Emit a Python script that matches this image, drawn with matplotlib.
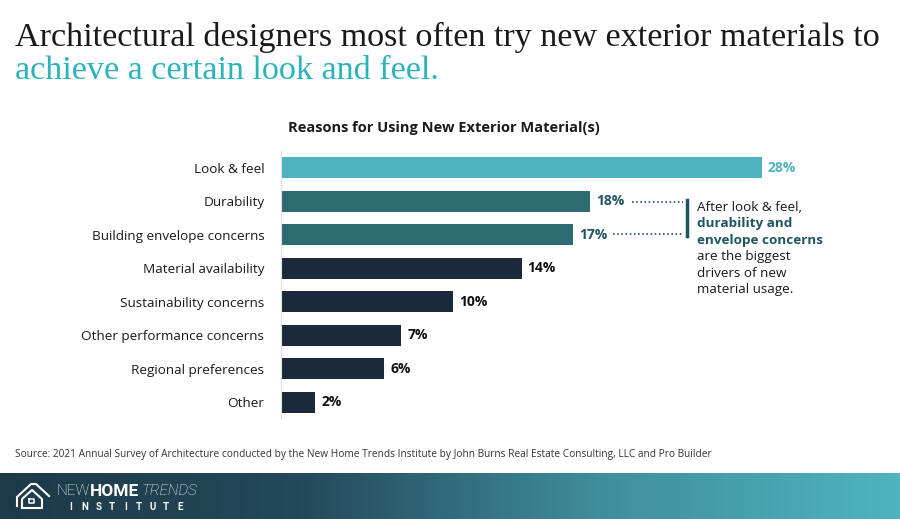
import numpy as np
import matplotlib
matplotlib.use('Agg')
import matplotlib.pyplot as plt
from matplotlib.colors import LinearSegmentedColormap

# data
reasons = ['Look & feel', 'Durability', 'Building envelope concerns',
           'Material availability', 'Sustainability concerns',
           'Other performance concerns', 'Regional preferences', 'Other']
shares = [28, 18, 17, 14, 10, 7, 6, 2]
bar_colors = ['#4fb3bf', '#2d6a72', '#2d6a72', '#1b2a3a', '#1b2a3a',
              '#1b2a3a', '#1b2a3a', '#1b2a3a']
label_colors = ['#4fb3bf', '#1f5561', '#1f5561', '#111111', '#111111',
                '#111111', '#111111', '#111111']

W, H = 900, 519
fig = plt.figure(figsize=(W / 100, H / 100), dpi=100)
fig.patch.set_facecolor('white')

def px(x, y):
    return x / W, 1 - y / H

# title
fig.text(*px(15, 37), 'Architectural designers most often try new exterior materials to',
         fontsize=24.6, family='Liberation Serif', color='#1a1a1a', va='center')
fig.text(*px(15, 71), 'achieve a certain look and feel.',
         fontsize=24.6, family='Liberation Serif', color='#2bb3bb', va='center')

fig.text(*px(444, 128), 'Reasons for Using New Exterior Material(s)', fontsize=10.5,
         family='Open Sans', weight='bold', color='#1a1a1a', ha='center', va='center')

# bar chart
x0, x1, y0, y1 = 281, 881, 151, 419
ax = fig.add_axes([x0 / W, 1 - y1 / H, (x1 - x0) / W, (y1 - y0) / H])
scale = 481 / 28.0
ax.set_xlim(0, (x1 - x0) / scale)
pos = np.arange(len(reasons))
ax.barh(pos, shares, height=0.64, color=bar_colors)
ax.set_ylim(len(reasons) - 0.5, -0.5)
ax.set_yticks(pos)
ax.set_yticklabels(reasons, fontsize=9.7, family='Open Sans', color='#1a1a1a')
ax.tick_params(axis='y', length=0, pad=12)
ax.set_xticks([])
for s in ['top', 'right', 'bottom']:
    ax.spines[s].set_visible(False)
ax.spines['left'].set_color('#dddddd')
ax.spines['left'].set_linewidth(0.8)
for i, (v, c) in enumerate(zip(shares, label_colors)):
    ax.text(v + 0.35, i, f'{v}%', va='center', ha='left', fontsize=10,
            family='Open Sans', weight='bold', color=c)

# annotation
ann = '#1f5561'
fig.add_artist(plt.Line2D([632 / W, 683 / W], [1 - 202 / H] * 2, ls=(0, (1, 1.5)),
                          color=ann, lw=1.2))
fig.add_artist(plt.Line2D([613 / W, 683 / W], [1 - 234 / H] * 2, ls=(0, (1, 1.5)),
                          color=ann, lw=1.2))
fig.add_artist(plt.Line2D([687 / W] * 2, [1 - 200 / H, 1 - 236 / H], color=ann, lw=2.5))
lines = [('After look & feel,', 'normal', '#1a1a1a'),
         ('durability and', 'bold', ann),
         ('envelope concerns', 'bold', ann),
         ('are the biggest', 'normal', '#1a1a1a'),
         ('drivers of new', 'normal', '#1a1a1a'),
         ('material usage.', 'normal', '#1a1a1a')]
for k, (t, w, c) in enumerate(lines):
    fig.text(*px(697, 207 + k * 16.6), t, fontsize=9.7, family='Open Sans',
             weight=w, color=c, va='center')

# source
fig.text(*px(15, 455), 'Source: 2021 Annual Survey of Architecture conducted by the New Home '
         'Trends Institute by John Burns Real Estate Consulting, LLC and Pro Builder',
         fontsize=7.3, family='Open Sans', color='#333333', va='center')

# footer band
fax = fig.add_axes([0, 0, 1, 46 / H])
cmap = LinearSegmentedColormap.from_list('band', ['#1d3a48', '#23495a', '#3f8e9b', '#4fb4c0'])
fax.imshow(np.linspace(0, 1, 256)[None, :], aspect='auto', cmap=cmap, extent=[0, W, 473, H])
fax.set_xlim(0, W)
fax.set_ylim(H, 473)
fax.axis('off')
# house icon
fax.plot([17, 17, 31, 36, 49], [506, 497, 484, 484, 496], color='white', lw=1.5,
         solid_joinstyle='round')
fax.plot([22, 22, 32, 42, 42, 22], [508, 499, 490, 499, 508, 508], color='white', lw=1.5,
         solid_joinstyle='round')
fax.plot([29, 34, 34, 29, 29], [499, 499, 503, 503, 499], color='white', lw=1.1)
fax.text(57, 491, 'NEW', color='white', fontsize=11, family='Roboto',
         weight='light', va='center')
fax.text(90, 491, 'HOME', color='white', fontsize=12.5, family='Roboto',
         weight='bold', va='center')
fax.text(142, 491, 'TRENDS', color='white', fontsize=11, family='Roboto',
         style='italic', weight='light', va='center')
for k, ch in enumerate('INSTITUTE'):
    fax.text(71 + k * 13.6, 507.5, ch, color='white', fontsize=7, family='Roboto',
             weight='bold', va='center', ha='center')

fig.savefig('out.png', dpi=100, facecolor='white')
